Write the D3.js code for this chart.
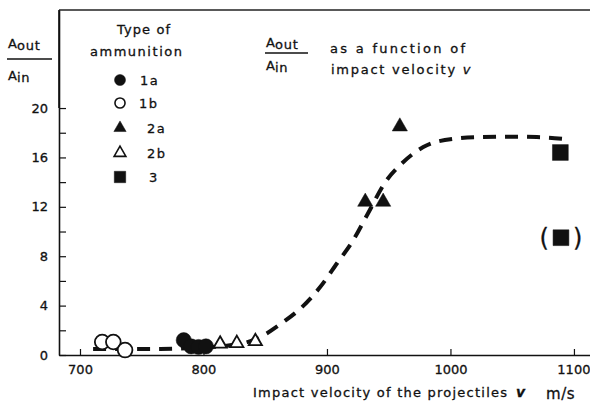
<!DOCTYPE html>
<html>
<head>
<meta charset="utf-8">
<script src="https://cdn.jsdelivr.net/npm/d3@7"></script>
<style>
  html, body { margin: 0; padding: 0; background: #fff; }
  svg { display: block; }
  text { font-family: "DejaVu Sans", sans-serif; fill: #111; stroke: #111; stroke-width: 0.3px; }
</style>
</head>
<body>
<svg id="chart" width="590" height="406"></svg>
<script>
// ---------------- data ----------------
const xTicks = [700, 800, 900, 1000, 1100];
const yTicks = [0, 2, 4, 6, 8, 10, 12, 14, 16, 18, 20];
const yTickLabels = ["0", "", "4", "", "8", "", "12", "", "16", "", "20"];

// Type 1a (filled circles): [velocity, Aout/Ain]
const ammo1a = [[784, 1.2], [790, 0.7], [796, 0.65], [802, 0.7]];
// Type 1b (open circles)
const ammo1b = [[718, 1.05], [727, 1.05], [736.5, 0.4]];
// Type 2a (filled triangles)
const ammo2a = [[931, 12.4], [945.5, 12.4], [959, 18.5]];
// Type 2b (open triangles)
const ammo2b = [[813.5, 0.9], [827, 0.95], [842, 1.1]];
// Type 3 (filled squares); second one is bracketed
const ammo3 = [[1089, 16.4]];
const ammo3Bracketed = [[1089.5, 9.5]];

// Fitted dashed curve
const fitCurve = [
  [710.6, 0.49], [732, 0.49], [765, 0.49], [797, 0.6], [830, 0.9],
  [847.5, 1.54], [863.7, 2.6], [880, 3.9], [894.5, 5.5], [908.3, 7.45],
  [920.4, 9.15], [933.4, 11.5], [947.2, 14.0], [961, 15.55], [978, 16.84],
  [1001.5, 17.5], [1024, 17.65], [1050, 17.68], [1070, 17.65], [1093, 17.5]
];

const legendItems = ["1a", "1b", "2a", "2b", "3"];

// ---------------- layout ----------------
const svg = d3.select("#chart");
const X0 = 59, X1 = 590, Y0 = 355, YTOP = 10;
const x = d3.scaleLinear().domain([683, 1113]).range([X0, X1]);
const y = d3.scaleLinear().domain([0, 27.94]).range([Y0, YTOP]);

// top frame line
svg.append("line").attr("x1", X0).attr("x2", X1).attr("y1", YTOP).attr("y2", YTOP)
  .attr("stroke", "#222").attr("stroke-width", 1.3);

// axes
const xAxis = d3.axisBottom(x).tickValues(xTicks).tickSize(-6).tickSizeOuter(0).tickPadding(10)
  .tickFormat(d3.format("d"));
const gx = svg.append("g").attr("transform", `translate(0,${Y0})`).call(xAxis);
gx.select(".domain").attr("stroke", "#111").attr("stroke-width", 1.6);
gx.selectAll(".tick line").attr("stroke", "#111").attr("stroke-width", 1.2);
gx.selectAll(".tick text").attr("font-size", 13).attr("font-family", "DejaVu Sans").attr("fill", "#111");
gx.selectAll(".tick text").filter(d => d === 1100).attr("text-anchor", "end").attr("x", 16);

const yAxis = d3.axisLeft(y).tickValues(yTicks).tickSize(-7).tickSizeOuter(0).tickPadding(11)
  .tickFormat((d, i) => yTickLabels[i]);
const gy = svg.append("g").attr("transform", `translate(${X0},0)`).call(yAxis);
gy.select(".domain").attr("stroke", "#111").attr("stroke-width", 1.6);
gy.selectAll(".tick line").attr("stroke", "#111").attr("stroke-width", 1.2);
gy.selectAll(".tick text").attr("font-size", 13).attr("font-family", "DejaVu Sans").attr("fill", "#111");
// extend y axis to top frame
svg.append("line").attr("x1", X0).attr("x2", X0).attr("y1", y(20)).attr("y2", YTOP)
  .attr("stroke", "#111").attr("stroke-width", 1.6);

// dashed curve
const line = d3.line().x(d => x(d[0])).y(d => y(d[1])).curve(d3.curveMonotoneX);
svg.append("path").datum(fitCurve).attr("d", line)
  .attr("fill", "none").attr("stroke", "#111").attr("stroke-width", 4)
  .attr("stroke-dasharray", "13,9");

// symbols
function drawPts(data, type, size, filled) {
  svg.append("g").selectAll("path").data(data).join("path")
    .attr("transform", d => `translate(${x(d[0])},${y(d[1])})`)
    .attr("d", d3.symbol().type(type).size(size))
    .attr("fill", filled ? "#111" : "#fff")
    .attr("stroke", "#111").attr("stroke-width", filled ? 0.5 : 1.8);
}
drawPts(ammo1b, d3.symbolCircle, 170, false);
drawPts(ammo2b, d3.symbolTriangle, 75, false);
drawPts(ammo1a, d3.symbolCircle, 180, true);
drawPts(ammo2a, d3.symbolTriangle, 100, true);
drawPts(ammo3, d3.symbolSquare, 250, true);
drawPts(ammo3Bracketed, d3.symbolSquare, 250, true);

// brackets around the bracketed square
ammo3Bracketed.forEach(d => {
  svg.append("text").attr("x", x(d[0]) - 12).attr("y", y(d[1]) + 8)
    .attr("text-anchor", "end").attr("font-size", 24).text("(");
  svg.append("text").attr("x", x(d[0]) + 12).attr("y", y(d[1]) + 8)
    .attr("text-anchor", "start").attr("font-size", 24).text(")");
});

// legend
svg.append("text").attr("x", 117).attr("y", 34).attr("textLength", 53).attr("lengthAdjust", "spacing")
  .attr("font-size", 13).text("Type of");
svg.append("text").attr("x", 90).attr("y", 56).attr("textLength", 92).attr("lengthAdjust", "spacing")
  .attr("font-size", 13).text("ammunition");

const legSym = [
  { type: d3.symbolCircle, size: 95, filled: true, sy: 80, lx: 140 },
  { type: d3.symbolCircle, size: 80, filled: false, sy: 103, lx: 139 },
  { type: d3.symbolTriangle, size: 65, filled: true, sy: 128, lx: 147 },
  { type: d3.symbolTriangle, size: 60, filled: false, sy: 153, lx: 147 },
  { type: d3.symbolSquare, size: 130, filled: true, sy: 177, lx: 149 }
];
legendItems.forEach((lab, i) => {
  const s = legSym[i];
  svg.append("path").attr("transform", `translate(120,${s.sy})`)
    .attr("d", d3.symbol().type(s.type).size(s.size)())
    .attr("fill", s.filled ? "#111" : "#fff").attr("stroke", "#111")
    .attr("stroke-width", s.filled ? 0.5 : 1.6);
  svg.append("text").attr("x", s.lx).attr("y", s.sy + 5).attr("font-size", 13)
    .attr("letter-spacing", 1.5).text(lab);
});

// fractions A_out / A_in
function fraction(xl, yOut, yLine, yIn, width) {
  const t1 = svg.append("text").attr("x", xl).attr("y", yOut).attr("font-size", 13);
  t1.append("tspan").text("A");
  t1.append("tspan").attr("dy", 2).attr("font-size", 13).attr("letter-spacing", 0.8).text("out");
  svg.append("line").attr("x1", xl - 1).attr("x2", xl + width).attr("y1", yLine).attr("y2", yLine)
    .attr("stroke", "#111").attr("stroke-width", 1.4);
  const t2 = svg.append("text").attr("x", xl).attr("y", yIn).attr("font-size", 13);
  t2.append("tspan").text("A");
  t2.append("tspan").attr("dy", 2).attr("font-size", 13).attr("letter-spacing", 0.8).text("in");
}
fraction(8, 48, 59, 80, 44);
fraction(266, 47, 53, 70, 42);

svg.append("text").attr("x", 330).attr("y", 53).attr("font-size", 13)
  .attr("textLength", 135).attr("lengthAdjust", "spacing").text("as a function of");
const t3 = svg.append("text").attr("x", 331).attr("y", 74).attr("font-size", 13);
t3.append("tspan").attr("textLength", 130).attr("lengthAdjust", "spacing").text("impact velocity ");
t3.append("tspan").attr("font-style", "italic").text("v");

// x-axis title
svg.append("text").attr("x", 253).attr("y", 397).attr("font-size", 13)
  .attr("textLength", 254).attr("lengthAdjust", "spacing").text("Impact velocity of the projectiles");
svg.append("text").attr("x", 516).attr("y", 397).attr("font-size", 14)
  .attr("font-weight", "bold").attr("font-style", "italic").text("v");
svg.append("text").attr("x", 546).attr("y", 399).attr("font-size", 15)
  .attr("letter-spacing", 0.6).text("m/s");
</script>
</body>
</html>
